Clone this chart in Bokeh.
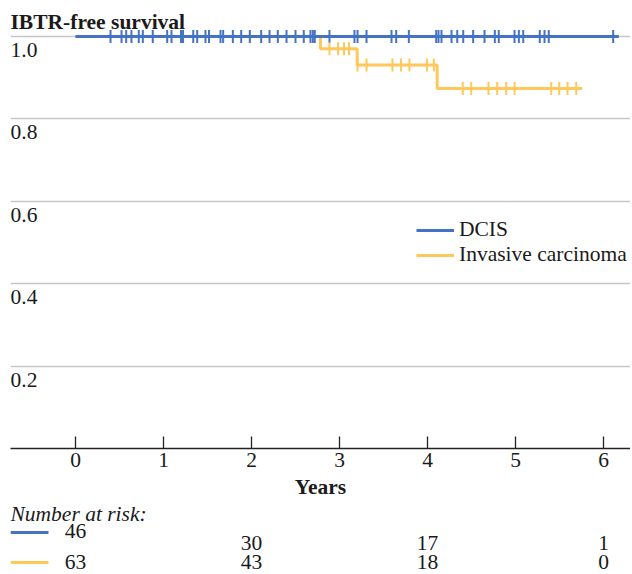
import numpy as np
from bokeh.plotting import figure
from bokeh.models import Range1d, Legend, LegendItem, FixedTicker
from bokeh.layouts import column
from bokeh.embed import file_html
from bokeh.resources import INLINE
from bokeh.core.properties import value

FONT = "Liberation Serif"
FS = "21.5px"
BLUE = "#4472C4"
GOLD = "#FFC85A"
TXT = "#1a1a1a"

# ---- data ----
series_names = ["DCIS", "Invasive carcinoma"]
dcis_times = [0.0, 6.174]
dcis_surv = [1.0, 1.0]
dcis_censor = [0.398, 0.523, 0.576, 0.636, 0.719, 0.765, 0.878, 1.042, 1.091, 1.199,
               1.222, 1.338, 1.383, 1.477, 1.517, 1.648, 1.678, 1.788, 1.883, 1.981,
               2.110, 2.205, 2.299, 2.398, 2.500, 2.594, 2.670, 2.697, 2.719, 2.886,
               3.170, 3.205, 3.307, 3.591, 3.644, 3.788, 4.099, 4.125, 4.159, 4.273,
               4.338, 4.406, 4.519, 4.648, 4.765, 4.810, 4.989, 5.038, 5.088, 5.276,
               5.330, 5.378, 6.110]
ic_times = [0.0, 2.784, 3.201, 4.110, 5.758]
ic_surv = [1.0, 0.970, 0.931, 0.874, 0.874]
ic_censor = [2.886, 2.983, 3.051, 3.108, 3.205, 3.307, 3.602, 3.699, 3.795, 3.994,
             4.072, 4.401, 4.497, 4.693, 4.792, 4.894, 4.989, 5.406, 5.497, 5.591,
             5.690]
risk_times = [0, 2, 4, 6]
risk_dcis = [46, 30, 17, 1]
risk_ic = [63, 43, 18, 0]
x_ticks = [0, 1, 2, 3, 4, 5, 6]
y_ticks = [0.2, 0.4, 0.6, 0.8, 1.0]
y_tick_labels = ["0.2", "0.4", "0.6", "0.8", "1.0"]
title_text = "IBTR-free survival"
x_label = "Years"
risk_heading = "Number at risk:"


def surv_at(ts, times, surv):
    idx = np.searchsorted(np.asarray(times), np.asarray(ts), side="right") - 1
    return [surv[i] for i in idx]


# ---- layout constants ----
FW, FH = 620, 440
PX_PER_YEAR = 88.0
PX_PER_UNIT = 412.0
X0 = -65.0 / PX_PER_YEAR
X1 = X0 + FW / PX_PER_YEAR
Y1 = FH / PX_PER_UNIT

p = figure(frame_width=FW, frame_height=FH, x_range=Range1d(X0, X1), y_range=Range1d(0, Y1),
           output_backend="svg", toolbar_location=None, y_axis_location=None,
           min_border_left=10, min_border_right=0, min_border_top=8, min_border_bottom=0)
p.outline_line_color = None
p.background_fill_color = "white"
p.xgrid.visible = False
p.ygrid.ticker = FixedTicker(ticks=y_ticks)
p.ygrid.grid_line_color = "#C6C6C6"
p.ygrid.grid_line_width = 1.3

ax = p.xaxis[0]
ax.ticker = FixedTicker(ticks=x_ticks)
ax.major_tick_in = 12
ax.major_tick_out = 0
ax.minor_tick_line_color = None
ax.axis_line_color = "#222222"
ax.axis_line_width = 1.5
ax.major_tick_line_color = "#222222"
ax.major_tick_line_width = 1.3
ax.major_label_text_font = FONT
ax.major_label_text_font_size = FS
ax.major_label_text_color = TXT
ax.major_label_standoff = 4
ax.axis_label = x_label
ax.axis_label_text_font = FONT
ax.axis_label_text_font_size = FS
ax.axis_label_text_font_style = "bold"
ax.axis_label_text_color = TXT
ax.axis_label_standoff = 5

# y labels (below each gridline, inside the frame)
p.text(x=[X0] * len(y_ticks), y=[v - 6.5 / PX_PER_UNIT for v in y_ticks], text=y_tick_labels,
       text_font=value(FONT), text_font_size=FS, text_color=TXT, text_align="left",
       text_baseline="top")
# title
p.text(x=[X0], y=[1.0 + 14.7 / PX_PER_UNIT], text=[title_text], text_font=value(FONT),
       text_font_size=FS, text_font_style="bold", text_color=TXT, text_align="left",
       text_baseline="alphabetic")

r_ic = p.step(ic_times, ic_surv, mode="after", line_color=GOLD, line_width=3)
r_dc = p.step(dcis_times, dcis_surv, mode="after", line_color=BLUE, line_width=3)
p.scatter(dcis_censor, surv_at(dcis_censor, dcis_times, dcis_surv), marker="dash",
          angle=np.pi / 2, size=13, line_color=BLUE, line_width=2)
p.scatter(ic_censor, surv_at(ic_censor, ic_times, ic_surv), marker="dash",
          angle=np.pi / 2, size=13, line_color=GOLD, line_width=2)

legend = Legend(items=[LegendItem(label=series_names[0], renderers=[r_dc]),
                       LegendItem(label=series_names[1], renderers=[r_ic])],
                location=(406, 181), border_line_color=None, background_fill_alpha=0,
                padding=0, margin=0, spacing=-5, glyph_width=38, glyph_height=20,
                label_standoff=5, label_text_font=FONT, label_text_font_size=FS,
                label_text_color=TXT, label_height=20)
p.add_layout(legend)

# ---- number at risk table ----
H2 = 73
q = figure(frame_width=FW, frame_height=H2, x_range=p.x_range, y_range=Range1d(H2, 0),
           output_backend="svg", toolbar_location=None, x_axis_location=None,
           y_axis_location=None, min_border_left=10, min_border_right=0, min_border_top=0,
           min_border_bottom=0)
q.outline_line_color = None
q.xgrid.visible = False
q.ygrid.visible = False

ROW_HEAD, ROW_D0, ROW_D, ROW_I = 12.5, 29.5, 41, 60.5
LINE_D, LINE_I = 31, 61
seg_len = 38 / PX_PER_YEAR
q.text(x=[X0], y=[ROW_HEAD], text=[risk_heading], text_font=value(FONT), text_font_size=FS,
       text_font_style="italic", text_color=TXT, text_align="left", text_baseline="middle")
q.segment(x0=[X0, X0], y0=[LINE_D, LINE_I], x1=[X0 + seg_len] * 2, y1=[LINE_D, LINE_I],
          line_color=[BLUE, GOLD], line_width=3)
q.text(x=risk_times[:1], y=[ROW_D0], text=[str(v) for v in risk_dcis[:1]], text_font=value(FONT),
       text_font_size=FS, text_color=TXT, text_align="center", text_baseline="middle")
q.text(x=risk_times[1:], y=[ROW_D] * 3, text=[str(v) for v in risk_dcis[1:]], text_font=value(FONT),
       text_font_size=FS, text_color=TXT, text_align="center", text_baseline="middle")
q.text(x=risk_times, y=[ROW_I] * 4, text=[str(v) for v in risk_ic], text_font=value(FONT),
       text_font_size=FS, text_color=TXT, text_align="center", text_baseline="middle")

layout = column(p, q, spacing=0)
open("out.html", "w").write(file_html(layout, INLINE))
